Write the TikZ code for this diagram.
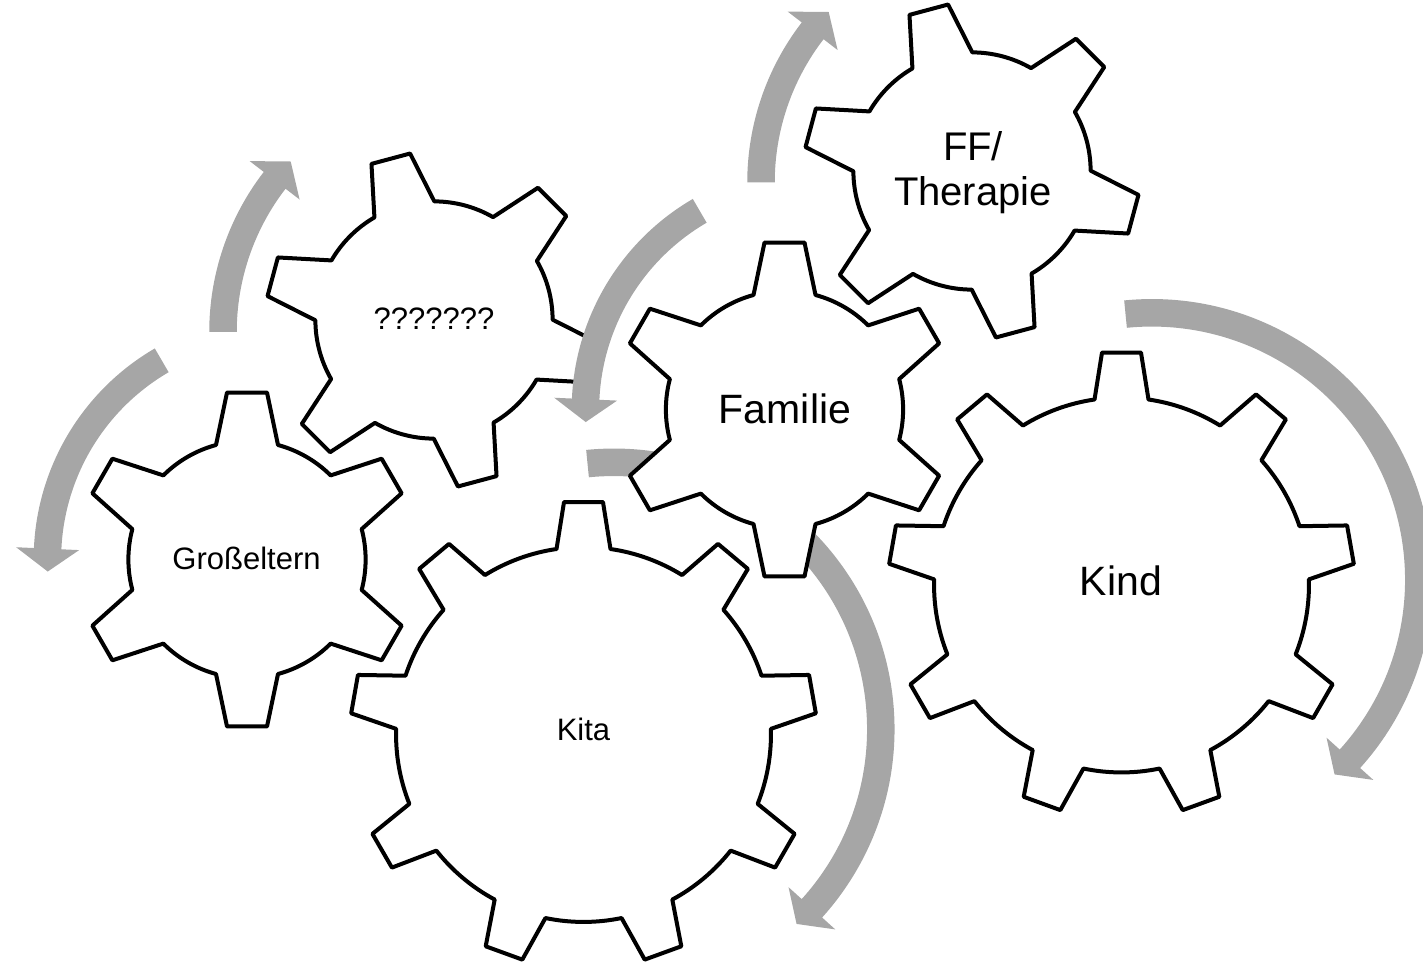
\documentclass[tikz,border=0pt]{standalone}
\usepackage{fontspec}
\setmainfont{Liberation Sans}
\definecolor{arrowgray}{RGB}{166,166,166}
\tikzset{
  gearline/.style={draw=black, line width=4pt, fill=white, line join=round},
  arrowfill/.style={fill=arrowgray, draw=none},
  lbl/.style={inner sep=0pt, anchor=base, text=black, align=center},
  smalltext/.style={font=\fontsize{31}{36}\selectfont},
  bigtext/.style={font=\fontsize{41}{46}\selectfont},
}
% gear: #1 cx, #2 cy, #3 teeth, #4 rotation, #5 tip radius, #6 tip half angle, #7 root radius, #8 base half angle
\newcommand\drawgear[8]{%
  \pgfmathsetmacro\gstep{360/#3}%
  \pgfmathtruncatemacro\glast{#3-1}%
  \begin{scope}[shift={(#1,#2)}]
    \draw[gearline] ({#4+90-#8}:#7)
      \foreach \i in {0,...,\glast}{
        -- ({#4+90+\i*\gstep-#6}:#5)
        -- ({#4+90+\i*\gstep+#6}:#5)
        -- ({#4+90+\i*\gstep+#8}:#7)
        arc[start angle={#4+90+\i*\gstep+#8}, end angle={#4+90+(\i+1)*\gstep-#8}, radius=#7]
      } -- cycle;
  \end{scope}}
% circular arrow: #1 cx, #2 cy, #3 R, #4 start angle, #5 head base angle, #6 tip angle
\newcommand\garrow[6]{%
  \begin{scope}[shift={(#1,#2)}]
    \fill[arrowfill] ({#4}:{#3+13.75})
      arc[start angle=#4, end angle=#5, radius={#3+13.75}]
      -- ({#5}:{#3+31.5}) -- ({#6}:{#3}) -- ({#5}:{#3-31.5})
      -- ({#5}:{#3-13.75})
      arc[start angle=#5, end angle=#4, radius={#3-13.75}] -- cycle;
  \end{scope}}
\begin{document}
\begin{tikzpicture}[x=1pt,y=1pt]
\useasboundingbox (0,0) rectangle (1423,962);
% gears (six teeth: tip 168.19 / 6.83deg, root 118.62 / 15.15deg)
\drawgear{434}{642}{6}{15}{168.19}{6.83}{118.62}{15.15}
\drawgear{247}{402.5}{6}{0}{168.19}{6.83}{118.62}{15.15}
\drawgear{972}{791}{6}{15}{168.19}{6.83}{118.62}{15.15}
% gears (nine teeth: tip 233.3 / 4.79deg, root 187.45 / 8.28deg)
\drawgear{583.5}{227.5}{9}{0}{233.3}{4.79}{187.45}{8.28}
\drawgear{1121.5}{377}{9}{0}{233.3}{4.79}{187.45}{8.28}
% arrows
\garrow{277.4}{402.9}{230}{120.2}{177.4}{183.1}
\garrow{471.6}{630}{248.6}{180}{142.4}{136.7}
\garrow{1009.6}{779.5}{248.6}{180}{142.4}{136.7}
\garrow{815.4}{552.4}{230}{120.2}{177.4}{183.1}
\garrow{1151.8}{382.2}{267}{95.65}{-42.1}{-46.8}
\garrow{613.8}{232.7}{267}{95.65}{-42.1}{-46.8}
% Familie gear on top
\drawgear{784.5}{552.5}{6}{0}{168.19}{6.83}{118.62}{15.15}
% labels
\node[lbl, smalltext] (grosseltern) at (246.5,392) {Großeltern};
\node[lbl, smalltext] (fragen) at (434,632) {???????};
\node[lbl, bigtext] (familie) at (785,538.7) {Familie};
\node[lbl, font=\fontsize{40}{45}\selectfont] (fftherapie) at (973,756) {FF/\\Therapie};
\node[lbl, smalltext] (kita) at (583.5,221.3) {Kita};
\node[lbl, bigtext] (kind) at (1121,367) {Kind};
\end{tikzpicture}
\end{document}
